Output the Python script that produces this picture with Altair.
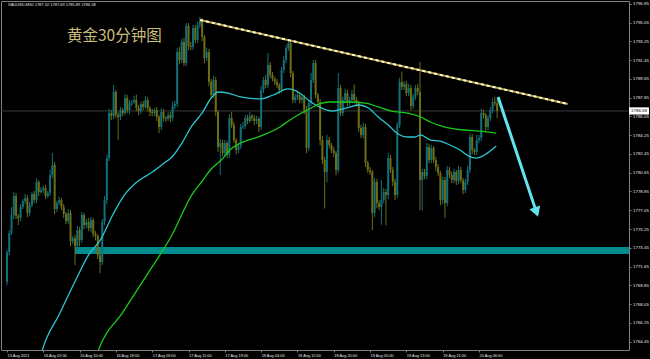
import json
import altair as alt
import pandas as pd

# ---------------- data ----------------
first_open = 1770.16
closes = [
    1773.04, 1774.86, 1776.59, 1778.41, 1776.49, 1776.30, 1777.36, 1777.93, 1778.22, 1776.78,
    1777.55, 1778.61, 1778.03, 1779.76, 1778.80, 1778.99, 1779.18, 1778.41, 1778.70, 1780.43,
    1781.39, 1777.17, 1777.74, 1778.03, 1777.36, 1776.69, 1776.01, 1776.78, 1774.09, 1774.38,
    1773.61, 1775.15, 1774.19, 1776.59, 1775.63, 1775.92, 1775.34, 1776.11, 1774.77, 1774.57,
    1772.75, 1772.08, 1775.92, 1778.03, 1782.06, 1786.38, 1786.09, 1788.40, 1786.19, 1786.00,
    1786.67, 1786.38, 1787.82, 1786.67, 1787.34, 1787.44, 1787.63, 1786.86, 1786.57, 1787.25,
    1786.96, 1787.63, 1786.86, 1786.48, 1786.38, 1786.67, 1786.00, 1785.04, 1786.48, 1785.90,
    1785.81, 1786.19, 1785.90, 1787.05, 1787.25, 1792.24, 1791.47, 1793.20, 1791.18, 1794.73,
    1792.81, 1792.72, 1794.54, 1793.39, 1794.83, 1795.21, 1793.68, 1791.66, 1792.24, 1789.36,
    1788.11, 1789.55, 1786.48, 1783.12, 1783.50, 1782.54, 1783.50, 1782.35, 1785.90, 1785.23,
    1783.79, 1782.83, 1783.21, 1785.04, 1785.13, 1785.90, 1785.61, 1786.09, 1785.90, 1785.61,
    1785.81, 1785.04, 1788.59, 1789.55, 1789.07, 1790.99, 1790.03, 1789.65, 1789.36, 1789.07,
    1788.59, 1790.51, 1791.47, 1792.62, 1793.10, 1790.22, 1787.63, 1787.92, 1788.11, 1787.63,
    1787.92, 1786.67, 1783.02, 1787.34, 1789.55, 1791.18, 1788.11, 1787.44, 1783.79, 1781.87,
    1780.72, 1783.79, 1783.31, 1782.83, 1782.54, 1780.91, 1788.78, 1786.38, 1787.63, 1788.30,
    1787.34, 1787.63, 1788.21, 1787.63, 1787.34, 1784.94, 1784.27, 1785.04, 1781.58, 1780.91,
    1780.72, 1776.78, 1779.76, 1777.74, 1777.36, 1778.03, 1778.80, 1778.51, 1782.06, 1780.91,
    1779.76, 1778.51, 1785.23, 1789.36, 1788.88, 1789.17, 1788.30, 1788.78, 1787.05, 1787.92,
    1788.78, 1788.40, 1779.95, 1780.72, 1780.33, 1783.12, 1781.87, 1783.02, 1781.87, 1781.20,
    1780.62, 1778.03, 1779.95, 1777.74, 1780.91, 1780.43, 1779.95, 1780.72, 1779.85, 1780.91,
    1779.95, 1778.99, 1779.76, 1780.91, 1784.08, 1782.83, 1782.64, 1783.79, 1783.98, 1786.38,
    1786.19, 1785.04, 1785.90, 1786.67, 1787.44, 1787.32, 1786.58,
]
up_wicks = [
    0.2, 0.3, 0.77, 0.4, 0.3, 0.2, 0.3, 0.2, 0.4, 0.3,
    0.3, 0.2, 0.3, 0.4, 0.2, 0.3, 0.2, 0.3, 0.2, 0.5,
    1.15, 0.3, 0.2, 0.3, 0.2, 0.3, 0.2, 0.4, 0.3, 0.2,
    0.3, 0.4, 0.3, 0.3, 0.2, 0.3, 0.4, 0.3, 0.2, 0.3,
    0.2, 0.3, 0.3, 0.4, 0.3, 0.4, 0.3, 0.67, 0.2, 0.3,
    0.3, 0.2, 0.4, 0.3, 0.3, 0.2, 0.4, 0.5, 0.3, 0.2,
    0.3, 0.4, 0.3, 0.2, 0.3, 0.2, 0.3, 0.2, 0.4, 0.3,
    0.2, 0.3, 0.3, 0.4, 0.3, 0.4, 0.5, 0.3, 0.4, 0.3,
    0.3, 0.4, 0.3, 0.3, 0.3, 0.4, 0.3, 0.2, 0.4, 0.3,
    0.3, 0.4, 0.3, 0.2, 0.4, 0.3, 0.3, 0.2, 0.4, 0.6,
    0.3, 0.2, 0.3, 0.3, 0.4, 0.3, 0.3, 0.4, 0.2, 0.3,
    0.3, 0.2, 0.4, 0.3, 0.5, 1.15, 0.3, 0.3, 0.2, 0.3,
    0.2, 0.3, 0.4, 0.3, 0.3, 0.3, 0.2, 0.3, 0.3, 0.2,
    0.3, 0.2, 0.4, 0.3, 0.67, 0.3, 0.3, 0.2, 0.3, 0.4,
    0.3, 0.5, 0.3, 0.2, 0.3, 0.2, 1.44, 0.3, 0.3, 0.4,
    0.3, 0.3, 0.4, 0.9, 0.3, 0.2, 0.3, 0.4, 0.3, 0.2,
    0.3, 0.2, 0.4, 0.3, 0.3, 1.9, 0.4, 0.3, 0.5, 0.3,
    0.3, 0.3, 0.3, 0.4, 1.0, 0.3, 0.3, 0.4, 0.3, 0.3,
    0.3, 0.4, 2.9, 0.3, 0.3, 0.4, 0.3, 0.3, 0.2, 0.3,
    0.3, 0.2, 0.3, 0.3, 0.4, 0.3, 0.3, 0.3, 0.2, 0.4,
    0.3, 0.2, 0.3, 0.4, 0.3, 0.3, 0.2, 0.5, 0.3, 0.4,
    0.3, 0.2, 0.3, 0.3, 0.4, 0.5, 0.37,
]
down_wicks = [
    0.3, 0.3, 0.2, 0.4, 0.3, 0.67, 0.3, 0.2, 0.3, 0.4,
    0.3, 0.2, 0.3, 0.3, 0.4, 0.2, 0.3, 0.3, 0.2, 0.3,
    0.3, 0.5, 0.3, 0.2, 0.3, 0.4, 0.3, 0.3, 0.5, 0.3,
    1.8, 0.3, 0.6, 0.3, 0.4, 0.3, 0.3, 0.4, 0.3, 0.4,
    0.4, 1.06, 0.3, 0.3, 0.4, 0.3, 0.4, 0.3, 0.3, 2.2,
    0.3, 0.3, 0.2, 0.3, 0.4, 0.3, 0.2, 0.3, 0.4, 0.3,
    0.3, 0.2, 0.3, 0.4, 0.3, 0.3, 0.4, 0.58, 0.3, 0.3,
    0.3, 0.2, 0.4, 0.3, 0.3, 0.3, 0.4, 0.3, 0.3, 0.3,
    0.4, 0.3, 0.3, 0.3, 0.3, 0.3, 0.4, 0.5, 0.3, 0.4,
    0.3, 0.3, 0.4, 0.5, 2.7, 0.3, 0.4, 0.3, 0.3, 0.3,
    0.3, 0.4, 0.3, 0.3, 0.2, 0.3, 0.3, 0.2, 0.3, 0.4,
    0.3, 0.5, 0.3, 0.3, 0.3, 0.3, 0.3, 0.2, 0.3, 0.3,
    0.4, 0.3, 0.3, 0.3, 0.3, 0.4, 0.3, 0.3, 0.3, 0.3,
    0.3, 0.4, 0.5, 0.3, 0.3, 0.3, 0.3, 0.4, 0.5, 0.4,
    3.5, 1.0, 0.3, 0.3, 0.4, 0.5, 0.3, 0.3, 0.3, 0.3,
    0.3, 0.3, 0.3, 0.3, 0.3, 0.4, 0.3, 0.3, 0.4, 0.3,
    0.3, 1.63, 0.4, 0.5, 0.3, 1.7, 0.3, 2.9, 0.4, 0.3,
    0.4, 0.5, 0.3, 0.3, 0.3, 0.3, 0.3, 0.3, 0.4, 0.3,
    0.3, 0.3, 2.9, 2.9, 0.3, 0.3, 0.3, 0.3, 0.3, 0.4,
    0.3, 0.5, 0.4, 1.44, 0.3, 0.3, 0.3, 0.3, 0.4, 0.3,
    0.3, 0.4, 0.3, 0.3, 0.3, 0.4, 0.3, 0.3, 0.3, 0.3,
    0.3, 0.4, 0.3, 0.3, 0.3, 0.3, 0.69,
]

# moving averages (read as points: bar index, price)
cyan_ma_idx = [13.9, 15.6, 22.9, 30.3, 35.9, 41.1, 46.8, 51.1, 56.7, 64.1, 69.3, 72.7, 77.1,
               81.4, 85.7, 90.0, 93.1, 97.4, 103.0, 111.7, 117.3, 123.8, 129.0, 133.3, 137.7,
               143.3, 149.4, 155.0, 159.3, 163.6, 168.0, 172.3, 176.6, 179.7, 182.3, 186.6,
               190.9, 195.2, 199.6, 203.5, 206.9, 210.4, 215.6]
cyan_ma_val = [1762.19, 1763.63, 1766.99, 1770.35, 1772.75, 1774.19, 1776.69, 1778.32, 1779.66,
               1780.72, 1781.58, 1782.16, 1783.50, 1785.13, 1786.29, 1787.82, 1788.40, 1788.30,
               1787.92, 1787.73, 1788.11, 1788.69, 1788.30, 1787.53, 1786.96, 1786.57, 1786.86,
               1787.15, 1786.86, 1786.00, 1785.23, 1784.37, 1784.08, 1784.08, 1784.27, 1783.79,
               1783.69, 1783.31, 1782.83, 1782.25, 1782.06, 1782.35, 1783.21]
green_ma_idx = [38.1, 40.3, 51.1, 61.9, 72.7, 81.4, 85.7, 90.0, 94.4, 98.7, 103.0, 111.7, 120.3,
                124.7, 129.0, 133.3, 137.7, 142.0, 150.6, 158.0, 163.6, 169.3, 176.6, 182.3,
                186.6, 192.6, 201.3, 208.2, 215.6]
green_ma_val = [1762.19, 1763.63, 1767.28, 1770.93, 1774.67, 1778.51, 1779.76, 1781.01, 1781.87,
                1782.93, 1783.50, 1784.17, 1785.04, 1785.71, 1786.29, 1786.77, 1787.25, 1787.44,
                1787.44, 1787.34, 1786.96, 1786.57, 1786.38, 1786.00, 1785.52, 1785.04, 1784.75,
                1784.65, 1784.46]

# annotations drawn on the chart
trend_idx = [85.1, 247.1]
trend_val = [1795.31, 1787.25]
arrow_idx = [216.4, 233.3]
arrow_val = [1787.92, 1776.87]
zone_start_idx = 29.9
zone_val = [1773.52, 1772.85]
last_price = 1786.58

x_tick_idx = [0, 16, 32, 48, 64, 80, 96, 112, 128, 144, 160, 176, 192, 208]
x_tick_labels = ["13 Aug 2021", "16 Aug 02:00", "16 Aug 10:00", "16 Aug 18:00", "17 Aug 03:00",
                 "17 Aug 11:00", "17 Aug 19:00", "18 Aug 04:00", "18 Aug 12:00", "18 Aug 20:00",
                 "19 Aug 05:00", "19 Aug 13:00", "19 Aug 21:00", "20 Aug 06:00"]
y_tick_vals = [1764.45, 1766.25, 1768.05, 1769.85, 1771.65, 1773.45, 1775.25, 1777.05, 1778.85,
               1780.65, 1782.45, 1784.25, 1786.05, 1787.85, 1789.65, 1791.45, 1793.25, 1795.05,
               1796.85]
header_text = "XAUUSD,M30  1787.32 1787.69 1785.89 1786.58"
title_text = "黄金30分钟图"

# ---------------- build tables ----------------
opens = [first_open] + closes[:-1]
rows = []
for i, (o, c, u, d) in enumerate(zip(opens, closes, up_wicks, down_wicks)):
    rows.append({
        "idx": i, "open": o, "close": c,
        "high": max(o, c) + u, "low": min(o, c) - d,
        "dir": "up" if c >= o else "down",
    })
bars = pd.DataFrame(rows)
cyan_df = pd.DataFrame({"idx": cyan_ma_idx, "val": cyan_ma_val})
green_df = pd.DataFrame({"idx": green_ma_idx, "val": green_ma_val})
trend_df = pd.DataFrame({"idx": trend_idx, "val": trend_val})
arrow_df = pd.DataFrame({"idx": arrow_idx, "val": arrow_val})
head_df = pd.DataFrame({"idx": [arrow_idx[1]], "val": [arrow_val[1]]})
zone_df = pd.DataFrame({"x1": [zone_start_idx], "y1": [zone_val[0]], "y2": [zone_val[1]]})
price_df = pd.DataFrame({"val": [last_price], "label": [f"{last_price:.2f}"]})

W, H = 628, 349
xdom = [-0.43, 271.9]
ydom = [1763.64, 1797.13]
FONT = "Liberation Sans"

xscale = alt.Scale(domain=xdom, nice=False, zero=False)
yscale = alt.Scale(domain=ydom, nice=False, zero=False)

label_expr = json.dumps(x_tick_labels) + "[round(datum.value / 16)]"
x_axis = alt.Axis(values=x_tick_idx, labelExpr=label_expr, title=None, grid=False, domain=False,
                  labelAlign="left", labelBaseline="top", labelFontSize=3.9, labelFont=FONT,
                  labelColor="#E6E6E6", labelPadding=1, tickSize=2, tickColor="#808080",
                  labelOverlap=False, labelFlush=False)
y_axis = alt.Axis(values=y_tick_vals, format=".2f", orient="right", title=None, grid=False,
                  domain=False, labelFontSize=4.4, labelFont=FONT, labelColor="#E6E6E6",
                  labelPadding=1.5, tickSize=2, tickColor="#808080", labelOverlap=False,
                  labelFlush=False)

X = lambda f: alt.X(f"{f}:Q", scale=xscale, axis=x_axis)
Y = lambda f: alt.Y(f"{f}:Q", scale=yscale, axis=y_axis)

zone = alt.Chart(zone_df).mark_rect(color="#008C8C").encode(
    x=X("x1"), x2=alt.value(W), y=Y("y1"), y2="y2")

price_line = alt.Chart(price_df).mark_rule(color="#3A3A3A", strokeWidth=1).encode(
    y=Y("val"), x=alt.value(0), x2=alt.value(W))

wick_color = alt.Color("dir:N", scale=alt.Scale(domain=["up", "down"],
                                                range=["#12707A", "#6E6E14"]), legend=None)
body_color = alt.Color("dir:N", scale=alt.Scale(domain=["up", "down"],
                                                range=["#1EE6EE", "#F5F50A"]), legend=None)

wicks = alt.Chart(bars).mark_rule(strokeWidth=1).encode(
    x=X("idx"), y=Y("low"), y2="high:Q", color=wick_color)
bodies = alt.Chart(bars).mark_bar(size=2).encode(
    x=X("idx"), y=Y("open"), y2="close", color=body_color)

cyan_line = alt.Chart(cyan_df).mark_line(color="#2CC6D2", strokeWidth=1.3, clip=True,
                                         interpolate="monotone").encode(x=X("idx"), y=Y("val"))
green_line = alt.Chart(green_df).mark_line(color="#1CC81C", strokeWidth=1.3, clip=True,
                                           interpolate="monotone").encode(x=X("idx"), y=Y("val"))

trend_base = alt.Chart(trend_df).mark_line(color="#B9A646", strokeWidth=2).encode(
    x=X("idx"), y=Y("val"))
trend_dash = alt.Chart(trend_df).mark_line(color="#FFFBD8", strokeWidth=2,
                                           strokeDash=[3, 3]).encode(x=X("idx"), y=Y("val"))

arrow_line = alt.Chart(arrow_df).mark_line(color="#62E4EE", strokeWidth=3).encode(
    x=X("idx"), y=Y("val"))
arrow_head = alt.Chart(head_df).mark_point(shape="triangle-down", size=130, filled=True,
                                           color="#62E4EE", opacity=1, angle=341).encode(
    x=X("idx"), y=Y("val"))

price_box = alt.Chart(price_df).mark_point(
    shape="M-1,-0.36L1,-0.36L1,0.36L-1,0.36Z", size=400, filled=True, fill="#FFFFFF",
    opacity=1, strokeWidth=0).encode(x=alt.value(W + 10), y=Y("val"))
price_text = alt.Chart(price_df).mark_text(fontSize=4.4, font=FONT, color="#000000",
                                           align="center", baseline="middle").encode(
    x=alt.value(W + 10), y=Y("val"), text="label:N")

header = alt.Chart(pd.DataFrame({"t": [header_text]})).mark_text(
    fontSize=4, font=FONT, color="#E8E8E8", align="left", baseline="middle").encode(
    x=alt.value(7), y=alt.value(4), text="t:N")
title = alt.Chart(pd.DataFrame({"t": [title_text]})).mark_text(
    fontSize=15.5, font="Noto Sans CJK SC", color="#C8BE78", align="left",
    baseline="middle").encode(x=alt.value(66), y=alt.value(35), text="t:N")

chart = alt.layer(
    zone, price_line, wicks, bodies, cyan_line, green_line, trend_base, trend_dash,
    arrow_line, arrow_head, price_box, price_text, header, title,
).properties(
    width=W, height=H, background="#000000",
    padding={"left": 1, "top": 1, "right": 21, "bottom": 9},
    autosize=alt.AutoSizeParams(type="none"),
).configure_view(stroke="#808080", strokeWidth=1)

chart.save("out.html", embed_options={"renderer": "svg", "actions": False})
